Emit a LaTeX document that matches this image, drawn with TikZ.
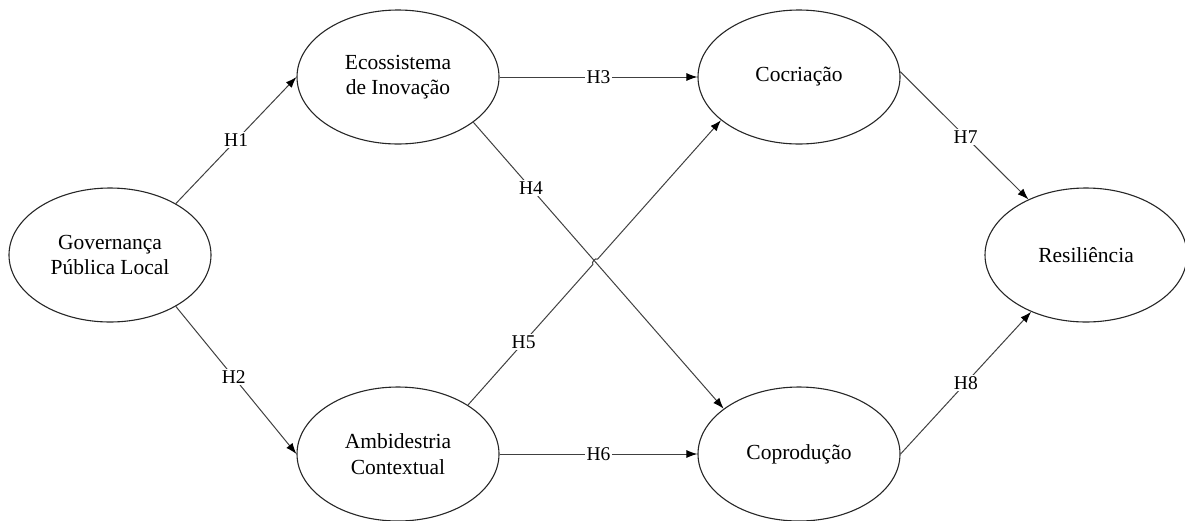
\documentclass[tikz,border=0pt]{standalone}
\usepackage{fontspec}
\setmainfont{Liberation Serif}
\usetikzlibrary{shapes.geometric,arrows.meta,calc,intersections}
\tikzset{
  construct/.style={ellipse, draw=black!85, line width=1.1pt, minimum width=202pt, minimum height=134pt, inner sep=0pt, align=center, font=\fontsize{21.5}{25.5}\selectfont},
  arr/.style={draw=black!75, line width=1pt, -{Latex[length=11pt,width=8pt,fill=black,color=black]}},
  lbl/.style={fill=white, inner sep=1.5pt, font=\fontsize{19.5}{22}\selectfont}
}
\begin{document}
\begin{tikzpicture}[x=1pt,y=-1pt]
\useasboundingbox (0,0) rectangle (1185,520);
\node[construct] (gov) at (110,255) {Governança\\Pública Local};
\node[construct] (eco) at (398,77) {Ecossistema\\de Inovação};
\node[construct] (amb) at (398,454) {Ambidestria\\Contextual};
\node[construct] (coc) at (799,77) {Cocriação};
\node[construct] (cop) at (799,454) {Coprodução};
\node[construct] (res) at (1086,255) {Resiliência};

\draw[arr] (gov.38) -- (eco.west) node[lbl, pos=0.5] {H1};
\draw[arr] (gov.-38) -- (amb.west) node[lbl, pos=0.48] {H2};
\draw[arr] (eco.east) -- (coc.west) node[lbl, pos=0.5] {H3};
\draw[arr] (amb.east) -- (cop.west) node[lbl, pos=0.5] {H6};
\draw[arr] (coc.3) -- (res.136) node[lbl, pos=0.51] {H7};
\draw[arr] (cop.east) -- (res.226) node[lbl, pos=0.5] {H8};

\path[name path=l4] (eco.-31) -- (cop.149);
\path[name path=l5] (amb.35) -- (coc.209);
\path[name intersections={of=l4 and l5, by=X}];
\coordinate (p1) at ($(X)!3.5pt!(amb.35)$);
\coordinate (p2) at ($(X)!3.5pt!(coc.209)$);
\draw[arr] (eco.-31) -- (cop.149);
\draw[arr] (amb.35) -- (p1) to[bend left=90] (p2) -- (coc.209);
\path (eco.-31) -- (cop.149) node[lbl, pos=0.23] {H4};
\path (amb.35) -- (coc.209) node[lbl, pos=0.22] {H5};
\end{tikzpicture}
\end{document}
